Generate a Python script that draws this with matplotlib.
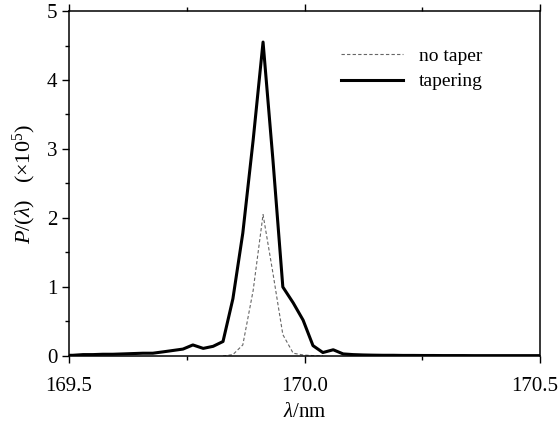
import matplotlib
matplotlib.use("Agg")
import matplotlib.pyplot as plt
from matplotlib.ticker import MultipleLocator, FuncFormatter

plt.rcParams['font.family'] = ['Liberation Serif', 'DejaVu Serif']
plt.rcParams['mathtext.fontset'] = 'custom'
plt.rcParams['mathtext.rm'] = 'Liberation Serif'
plt.rcParams['mathtext.it'] = 'Liberation Serif:italic'

# wavelength samples (nm)
wl_taper = [169.500, 169.508, 169.530, 169.551, 169.572, 169.593, 169.615, 169.636,
            169.657, 169.678, 169.700, 169.721, 169.742, 169.763, 169.785, 169.806,
            169.827, 169.848, 169.869, 169.891, 169.912, 169.933, 169.954, 169.976,
            169.997, 170.018, 170.039, 170.061, 170.082, 170.103, 170.124, 170.145,
            170.167, 170.188, 170.209, 170.230, 170.252, 170.273, 170.294, 170.315,
            170.336, 170.358, 170.379, 170.400, 170.421, 170.443, 170.464, 170.485,
            170.500]
# power spectrum with tapering (x1e5)
p_taper = [0.01, 0.01, 0.02, 0.02, 0.025, 0.025, 0.03, 0.035,
           0.04, 0.04, 0.06, 0.08, 0.10, 0.16, 0.11, 0.14,
           0.21, 0.83, 1.78, 3.13, 4.55, 2.84, 1.00, 0.77,
           0.52, 0.15, 0.05, 0.09, 0.03, 0.02, 0.015, 0.012,
           0.01, 0.01, 0.008, 0.008, 0.007, 0.007, 0.006, 0.006,
           0.006, 0.005, 0.005, 0.005, 0.005, 0.005, 0.005, 0.005,
           0.005]

wl_plain = [169.827, 169.848, 169.869, 169.891, 169.912, 169.933, 169.954,
            169.976, 169.997, 170.018, 170.039]
# power spectrum without tapering (x1e5)
p_plain = [0.0, 0.02, 0.16, 0.95, 2.05, 1.20, 0.31, 0.04, 0.015, 0.005, 0.0]

x_min, x_max = 169.5, 170.5

fig = plt.figure(figsize=(5.6, 4.25), dpi=100)
ax = fig.add_axes([0.1232, 0.1624, 0.8411, 0.8117])

ax.plot(wl_plain, p_plain, linestyle=(0, (3, 2)), color='#666666', linewidth=0.8,
        label='no taper')
ax.plot(wl_taper, p_taper, color='black', linewidth=2.2, label='tapering')

ax.set_xlim(x_min, x_max)
ax.set_ylim(0, 5)
ax.xaxis.set_major_locator(MultipleLocator(0.5))
ax.xaxis.set_minor_locator(MultipleLocator(0.25))
# the last label is placed separately so it stays inside the canvas
ax.xaxis.set_major_formatter(
    FuncFormatter(lambda v, pos: '' if abs(v - x_max) < 1e-9 else f'{v:.1f}'))
ax.yaxis.set_major_locator(MultipleLocator(1))
ax.yaxis.set_minor_locator(MultipleLocator(0.5))

ax.tick_params(axis='both', which='both', direction='out', labelsize=15, width=1.0)
ax.tick_params(axis='both', which='major', length=5)
ax.tick_params(axis='both', which='minor', length=3)
ax.tick_params(axis='x', which='major', pad=10)
ax.tick_params(axis='x', which='both', top=True, labeltop=False)
ax.tick_params(axis='y', which='both', right=False)
for s in ax.spines.values():
    s.set_linewidth(1.1)

ax.annotate(f'{x_max:.1f}', xy=(x_max, 0), xycoords=('data', 'axes fraction'),
            xytext=(-4, -15), textcoords='offset points', ha='center', va='top',
            fontsize=15, annotation_clip=False)

ax.set_xlabel(r'$\lambda$/nm', fontsize=15, labelpad=5)
ax.set_ylabel(r'$P$/($\lambda$)   ($\times$10$^5$)', fontsize=16, labelpad=6)

ax.legend(loc='upper left', bbox_to_anchor=(0.54, 0.945), frameon=False,
          fontsize=14, handlelength=3.2, handletextpad=0.8, labelspacing=0.4)

fig.savefig('out.png', dpi=100)
